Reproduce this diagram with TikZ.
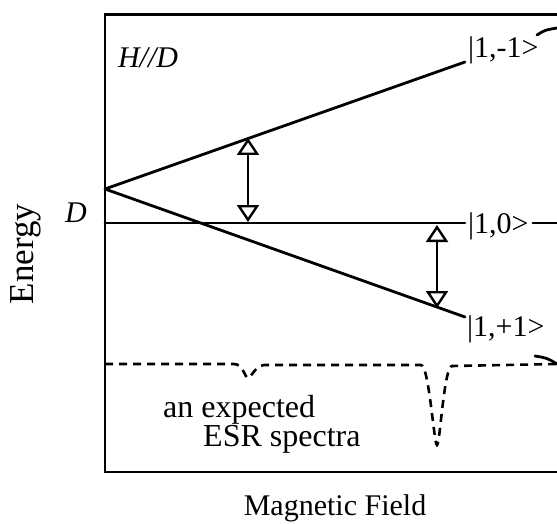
\documentclass[tikz,border=0pt]{standalone}
\usepackage{fontspec}
\setmainfont{Liberation Serif}
\usetikzlibrary{positioning,calc,arrows.meta}

\begin{document}
\begin{tikzpicture}[
  x=1pt,y=-1pt,
  frame/.style={line width=2.4pt},
  level/.style={line width=2.8pt,line cap=round},
  ket/.style={font=\fontsize{30}{34}\selectfont,inner sep=0pt},
  txt/.style={font=\fontsize{32}{36}\selectfont,inner sep=0pt},
  trans/.style={{Triangle[open,length=17pt,width=22pt]}-{Triangle[open,length=17pt,width=22pt]},line width=2.4pt},
  spec/.style={line width=2.6pt,dash pattern=on 8pt off 6pt}
]
  \useasboundingbox (0,0) rectangle (557,524);

  % frame
  \draw[frame] (557,14.5) -- (105,14.5) -- (105,472) -- (557,472);

  % zero-field point and level ends
  \coordinate (zf) at (105,189);
  \coordinate (upEnd) at (465,62);
  \coordinate (midStart) at (105,223);
  \coordinate (midEnd) at (465,223);
  \coordinate (loEnd) at (465,317);

  \node[ket,anchor=west] (km) at (468,50) {|1,-1>};
  \node[ket,anchor=west] (k0) at (468,226) {|1,0>};
  \node[ket,anchor=west] (kp) at (467,329) {|1,+1>};

  \draw[level] (zf) -- (upEnd);
  \draw[level] (zf) -- (loEnd);
  \draw[level] (midStart) -- (midEnd);

  % pieces past the labels
  \coordinate (midOut) at (557,223);
  \draw[level] ([xshift=4pt]k0.east |- midOut) -- (midOut);
  \coordinate (upA) at (537,35);
  \coordinate (upB) at (557,28);
  \draw[level] (upA) .. controls (545,30) .. (upB);
  \coordinate (loA) at (535,356);
  \coordinate (loB) at (557,364);
  \draw[level] (loA) .. controls (547,358) .. (loB);

  % transitions
  \coordinate (a1t) at (248,138);
  \coordinate (a1b) at (248,222);
  \coordinate (a2t) at (437,225);
  \coordinate (a2b) at (437,308);
  \draw[trans] (a1b) -- (a1t);
  \draw[trans] (a2t) -- (a2b);

  % expected spectrum
  \draw[spec] (105,364) -- (234,364)
    .. controls (243,364) and (245,378) .. (248,378)
    .. controls (251,378) and (255,366) .. (264,365) -- (421,365)
    .. controls (429,365) and (434,445) .. (437,445)
    .. controls (440,445) and (444,366) .. (452,366) -- (557,364);

  % labels
  \node[txt,font=\fontsize{30}{34}\selectfont\itshape] (hd) at (148,58) {H//D};
  \node[txt,font=\fontsize{30}{34}\selectfont\itshape] (dl) at (76,213) {D};
  \node[txt,font=\fontsize{35}{40}\selectfont,rotate=90,anchor=base] (energy) at (34,254) {Energy};
  \node[txt,anchor=base west] (esr1) at (163,417) {an expected};
  \node[txt,anchor=base west] (esr2) at (203,446) {ESR spectra};
  \node[txt,font=\fontsize{30}{34}\selectfont,anchor=base] (field) at (335,515) {Magnetic Field};
\end{tikzpicture}
\end{document}
